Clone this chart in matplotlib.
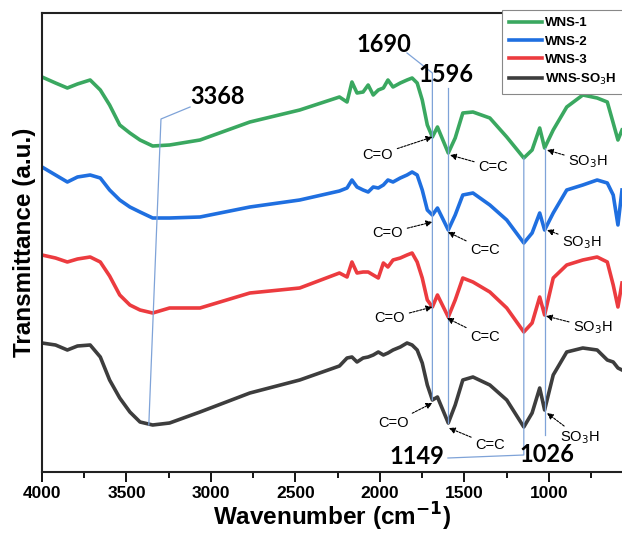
import numpy as np
import matplotlib
matplotlib.use("Agg")
import matplotlib.pyplot as plt

plt.rcParams['font.family'] = ['Liberation Sans', 'DejaVu Sans']

# Wavenumber grid (cm-1)
wavenumber = [4000, 3920, 3850, 3790, 3715, 3655, 3600, 3540, 3480, 3420, 3345, 3245,
              3065, 2770, 2475, 2240, 2195, 2166, 2136, 2100, 2070, 2040, 2010, 1980,
              1953, 1923, 1880, 1840, 1810, 1780, 1750, 1720,
              1690, 1660, 1596, 1555, 1510, 1450, 1350, 1250, 1149, 1100, 1055, 1026,
              975, 895, 800, 715, 655, 620, 592, 568]

# Transmittance (a.u., stacked)
wns1 = [395, 389, 384, 388, 392, 382, 367, 347, 339, 332, 326, 327, 332, 350, 362,
        375, 370, 390, 379, 380, 387, 377, 382, 384, 392, 385, 389, 392, 394, 389, 372, 347,
        335, 345, 319, 334, 359, 360, 354, 335,
        314, 322, 344, 324, 342, 365, 377, 374, 370, 349, 332, 342]
wns2 = [305, 297, 290, 295, 297, 294, 282, 272, 265, 260, 254, 254, 255, 265, 272,
        281, 284, 292, 285, 282, 280, 285, 284, 287, 292, 290, 294, 297, 300, 297, 282, 262,
        257, 264, 242, 257, 277, 279, 267, 252,
        229, 239, 259, 242, 259, 282, 287, 292, 289, 277, 247, 282]
wns3 = [217, 214, 210, 213, 215, 210, 196, 177, 167, 162, 159, 164, 164, 179, 184,
        199, 195, 210, 199, 200, 200, 197, 194, 209, 205, 212, 214, 217, 219, 210, 194, 172,
        165, 177, 155, 172, 194, 190, 180, 164,
        140, 149, 175, 157, 194, 207, 212, 215, 210, 187, 165, 189]
wns_so3h = [129, 127, 122, 126, 127, 115, 92, 74, 60, 50, 47, 49, 60, 79, 92,
            106, 114, 115, 110, 114, 115, 117, 120, 117, 119, 122, 125, 129, 127, 122, 109, 87,
            72, 75, 49, 67, 92, 95, 87, 72,
            45, 59, 84, 62, 97, 120, 124, 122, 112, 110, 104, 102]

series_names = ['WNS-1', 'WNS-2', 'WNS-3', 'WNS-SO$_3$H']
series_colors = ['#3aa860', '#1f6fe0', '#ec3b3f', '#3d3d3d']

peak_labels = ['3368', '1690', '1596', '1149', '1026']
xtick_vals = [4000, 3500, 3000, 2500, 2000, 1500, 1000]

fig = plt.figure(figsize=(6.22, 5.34), dpi=100)
ax = fig.add_axes([42/622, 1-472/534, 1-42/622, (472-13)/534])

for ys, name, col in zip([wns1, wns2, wns3, wns_so3h], series_names, series_colors):
    ax.plot(wavenumber, ys, color=col, lw=2.6, label=name, solid_joinstyle='round')

ax.set_xlim(4000, 568)
ax.set_ylim(0, 459)
ax.set_yticks([])
ax.set_xticks(xtick_vals)
ax.set_xticklabels([str(v) for v in xtick_vals], fontsize=12.5, fontweight='bold')
ax.set_xticks(np.arange(3750, 568, -500), minor=True)
ax.tick_params(axis='x', which='major', direction='out', length=7, width=1.3, pad=3)
ax.tick_params(axis='x', which='minor', direction='out', length=4, width=1.3)
for s in ['left', 'bottom', 'top']:
    ax.spines[s].set_linewidth(1.5)
    ax.spines[s].set_color('#222222')
ax.spines['right'].set_visible(False)

ax.set_xlabel('Wavenumber (cm$^{\\mathbf{-1}}$)', fontsize=17.5, fontweight='bold', labelpad=0)
ax.set_ylabel('Transmittance (a.u.)', fontsize=17.5, fontweight='bold', labelpad=4)

# Peak leader lines
lc = '#7fa3d8'
plw = 0.9
ax.plot([3124, 3296, 3368], [365, 353, 47], color=lc, lw=plw)
ax.plot([1840, 1690, 1690], [419, 399, 72], color=lc, lw=plw)
ax.plot([1596, 1596], [384, 49], color=lc, lw=plw)
ax.plot([1598, 1149, 1149], [14, 17, 314], color=lc, lw=plw)
ax.plot([1026, 1026], [324, 37], color=lc, lw=plw)

pk_font = dict(fontsize=17, fontweight='bold', family=['Lato', 'DejaVu Sans'], ha='center', va='center')
ax.text(2960, 376, peak_labels[0], **pk_font)
ax.text(1975, 427, peak_labels[1], **pk_font)
ax.text(1610, 397, peak_labels[2], **pk_font)
ax.text(1780, 16, peak_labels[3], **pk_font)
ax.text(1015, 17, peak_labels[4], **pk_font)

arrow = dict(arrowstyle='-|>', color='black', lw=0.8, linestyle=(0, (2, 1.2)),
             mutation_scale=9, shrinkA=1, shrinkB=0)
lab_font = dict(fontsize=10.5, ha='center', va='center')
groups = [
    # (C=O text, head), (C=C text, head), (SO3H text, head)
    [((2012, 317), (1690, 335)), ((1331, 305), (1586, 317)), ((769, 310), (1012, 322))],
    [((1953, 239), (1690, 250)), ((1379, 222), (1598, 240)), ((805, 229), (1012, 242))],
    [((1941, 154), (1690, 165)), ((1379, 135), (1604, 154)), ((740, 144), (1018, 156))],
    [((1923, 49), (1690, 69)), ((1349, 27), (1592, 44)), ((817, 34), (1012, 59))],
]
labels = ['C=O', 'C=C', 'SO$_3$H']
for grp in groups:
    for lab, (txt, head) in zip(labels, grp):
        ax.annotate(lab, xy=head, xytext=txt, arrowprops=arrow, **lab_font)

leg = ax.legend(loc='upper left', bbox_to_anchor=(502/622, 1-10/534), bbox_transform=fig.transFigure,
                frameon=True, fancybox=False, framealpha=1, edgecolor='#888888',
                prop=dict(weight='bold', size=9.5), handlelength=2.5, handletextpad=0.2,
                labelspacing=0.45, borderpad=0.55, borderaxespad=0)
leg.get_frame().set_linewidth(0.8)

fig.savefig('out.png', dpi=100)
